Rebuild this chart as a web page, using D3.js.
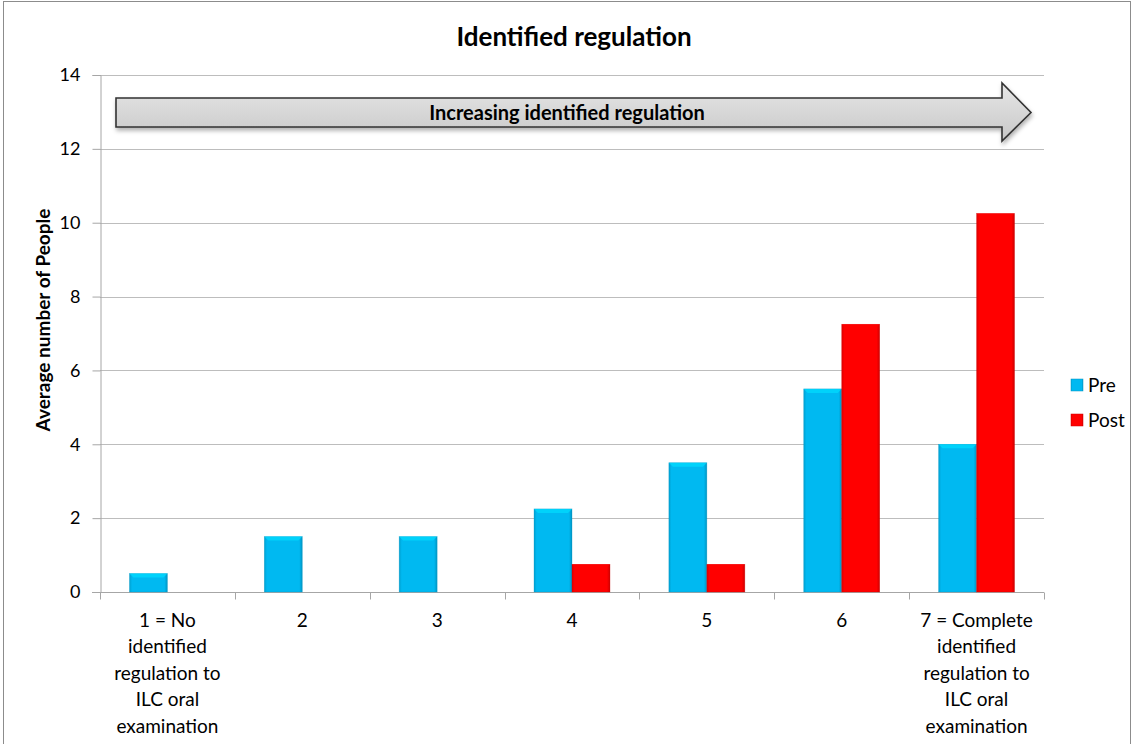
<!DOCTYPE html>
<html>
<head>
<meta charset="utf-8">
<script src="https://cdn.jsdelivr.net/npm/d3@7"></script>
<style>
  html, body { margin: 0; padding: 0; background: #fff; }
  svg { display: block; font-family: Lato, "Open Sans", sans-serif; }
</style>
</head>
<body>
<svg id="chart" width="1134" height="744"></svg>
<script>
const title = "Identified regulation";
const arrowText = "Increasing identified regulation";
const yTitle = "Average number of People";
const categories = [
  "1 = No\nidentified\nregulation to\nILC oral\nexamination",
  "2", "3", "4", "5", "6",
  "7 = Complete\nidentified\nregulation to\nILC oral\nexamination"
];
const seriesNames = ["Pre", "Post"];
const preValues  = [0.5, 1.5, 1.5, 2.25, 3.5, 5.5, 4];
const postValues = [0, 0, 0, 0.75, 0.75, 7.25, 10.25];
const yTicks = [0, 2, 4, 6, 8, 10, 12, 14];
const colors = { Pre: "#00B9F1", Post: "#FF0000" };

const svg = d3.select("#chart");
const m = { left: 100, right: 1044, top: 75, bottom: 592 };

// outer border
svg.append("rect").attr("x", 3.5).attr("y", 1.5).attr("width", 1127).attr("height", 800)
  .attr("fill", "#fff").attr("stroke", "#8c8c8c").attr("stroke-width", 1);

const defs = svg.append("defs");
function barGrad(id, c) {
  const g = defs.append("linearGradient").attr("id", id).attr("x1", 0).attr("x2", 1).attr("y1", 0).attr("y2", 0);
  const base = d3.color(c);
  g.append("stop").attr("offset", "0%").attr("stop-color", base.darker(0.4));
  g.append("stop").attr("offset", "7%").attr("stop-color", base);
  g.append("stop").attr("offset", "92%").attr("stop-color", base);
  g.append("stop").attr("offset", "100%").attr("stop-color", base.darker(0.6));
}
barGrad("gPre", colors.Pre);
barGrad("gPost", colors.Post);
const ag = defs.append("linearGradient").attr("id", "gArrow").attr("x1", 0).attr("x2", 0).attr("y1", 0).attr("y2", 1);
ag.append("stop").attr("offset", "0%").attr("stop-color", "#e6e6e6");
ag.append("stop").attr("offset", "100%").attr("stop-color", "#c8c8c8");
const sh = defs.append("filter").attr("id", "shadow").attr("x", "-5%").attr("y", "-20%").attr("width", "110%").attr("height", "160%");
sh.append("feDropShadow").attr("dx", 1).attr("dy", 3).attr("stdDeviation", 2).attr("flood-color", "#000").attr("flood-opacity", 0.3);

const y = d3.scaleLinear().domain([0, 14]).range([m.bottom, m.top]);
const x0 = d3.scaleBand().domain(categories).range([m.left, m.right]).padding(0);
const x1 = d3.scaleBand().domain(seriesNames).range([0, x0.bandwidth()]).paddingInner(0).paddingOuter(0.775);

// gridlines
svg.append("g").selectAll("line").data(yTicks.filter(d => d > 0)).join("line")
  .attr("x1", m.left).attr("x2", m.right)
  .attr("y1", d => Math.round(y(d)) + 0.5).attr("y2", d => Math.round(y(d)) + 0.5)
  .attr("stroke", "#bdbdbd").attr("stroke-width", 1);

// y axis
const yAxis = svg.append("g").attr("transform", `translate(${m.left + 0.5},0)`)
  .call(d3.axisLeft(y).tickValues(yTicks).tickSize(8).tickPadding(12));
yAxis.select(".domain").attr("stroke", "#a6a6a6");
yAxis.selectAll(".tick line").attr("stroke", "#a6a6a6");
yAxis.selectAll(".tick text").attr("font-size", 18).attr("fill", "#000").attr("font-family", "Lato, sans-serif");

// x axis
const xAxisG = svg.append("g").attr("transform", `translate(0,${Math.round(m.bottom) + 0.5})`);
xAxisG.append("line").attr("x1", m.left - 8).attr("x2", m.right).attr("stroke", "#a6a6a6");
const bounds = categories.map(c => x0(c)).concat([m.right]);
xAxisG.selectAll("line.tk").data(bounds).join("line").attr("class", "tk")
  .attr("x1", d => Math.round(d) + 0.5).attr("x2", d => Math.round(d) + 0.5)
  .attr("y1", 0).attr("y2", 7).attr("stroke", "#a6a6a6");
const xl = xAxisG.selectAll("text").data(categories).join("text")
  .attr("text-anchor", "middle").attr("font-size", 19).attr("fill", "#000")
  .attr("transform", d => `translate(${x0(d) + x0.bandwidth() / 2},0)`);
xl.each(function(d) {
  const t = d3.select(this);
  d.split("\n").forEach((line, i) => {
    t.append("tspan").attr("x", 0).attr("y", 34 + i * 26.5).text(line);
  });
});

// bars
const rows = categories.map((c, i) => ({ c, Pre: preValues[i], Post: postValues[i] }));
const groups = svg.append("g").selectAll("g").data(rows).join("g")
  .attr("transform", d => `translate(${x0(d.c)},0)`);
groups.each(function(d) {
  const g = d3.select(this);
  seriesNames.forEach(s => {
    const v = d[s];
    if (v <= 0) return;
    const bx = x1(s), bw = x1.bandwidth(), by = y(v), bh = y(0) - y(v);
    const base = d3.color(colors[s]);
    g.append("rect").attr("x", bx).attr("y", by).attr("width", bw).attr("height", bh)
      .attr("fill", `url(#g${s})`).attr("stroke", base.darker(0.6)).attr("stroke-width", 0.6).attr("stroke-opacity", 0.5);
    const bev = Math.min(4, bh);
    g.append("path")
      .attr("d", `M${bx},${by} L${bx + bw},${by} L${bx + bw - 4},${by + bev} L${bx + 4},${by + bev} Z`)
      .attr("fill", base.brighter(0.5)).attr("opacity", 0.7);
  });
});

// arrow
const ax0 = 116, ax1 = 1031, bodyTop = 98, bodyBot = 127, headTop = 83, headBot = 141, headX = 1002;
const ymid = (bodyTop + bodyBot) / 2;
svg.append("path")
  .attr("d", `M${ax0},${bodyTop} L${headX},${bodyTop} L${headX},${headTop} L${ax1},${ymid} L${headX},${headBot} L${headX},${bodyBot} L${ax0},${bodyBot} Z`)
  .attr("fill", "url(#gArrow)").attr("stroke", "#333").attr("stroke-width", 1.6)
  .attr("stroke-linejoin", "miter").attr("filter", "url(#shadow)");
svg.append("text").attr("x", 567).attr("y", ymid + 7).attr("text-anchor", "middle")
  .attr("font-size", 20).attr("font-weight", "bold").attr("fill", "#000").text(arrowText);

// title
svg.append("text").attr("x", 574).attr("y", 46).attr("text-anchor", "middle")
  .attr("font-size", 26).attr("font-weight", "bold").attr("fill", "#000").text(title);

// y title
svg.append("text").attr("transform", `translate(50,320) rotate(-90)`)
  .attr("text-anchor", "middle").attr("font-size", 19).attr("font-weight", "bold").attr("fill", "#000").text(yTitle);

// legend
const leg = svg.append("g").selectAll("g").data(seriesNames).join("g")
  .attr("transform", (d, i) => `translate(1071,${379 + i * 35})`);
leg.append("rect").attr("width", 12).attr("height", 12).attr("fill", d => `url(#g${d})`)
  .attr("stroke", d => d3.color(colors[d]).darker(0.6)).attr("stroke-width", 0.5);
leg.append("text").attr("x", 17).attr("y", 12.5).attr("font-size", 19).attr("fill", "#000").text(d => d);
</script>
</body>
</html>
